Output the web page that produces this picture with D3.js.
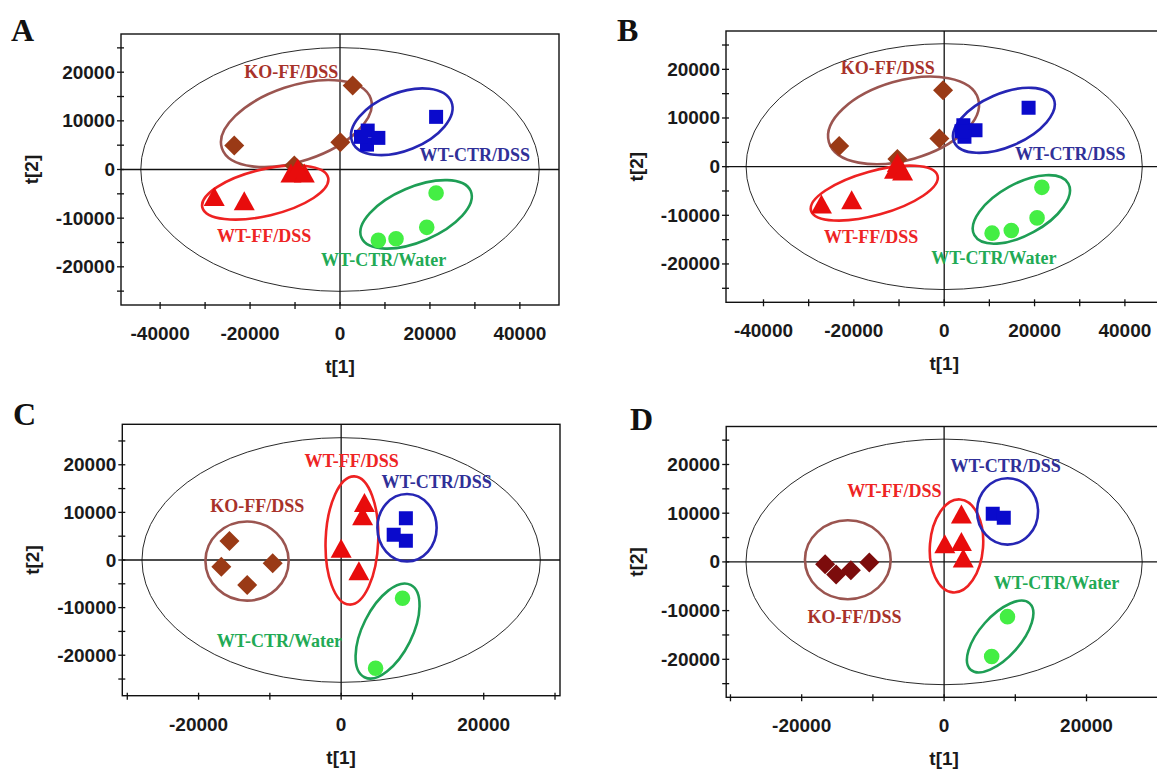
<!DOCTYPE html>
<html lang="en">
<head>
<meta charset="UTF-8" />
<title>PCA score plots</title>
<script src="https://d3js.org/d3.v7.min.js"></script>
<style>
  body { margin: 0; background: #fff; }
  text { font-family: "Liberation Sans", Arial, sans-serif; }
  .tick-label { font-size: 19px; font-weight: bold; fill: #1a1a1a; }
  .axis-title { font-size: 19px; font-weight: bold; fill: #1a1a1a; }
  .panel-letter { font-family: "Liberation Serif", "Times New Roman", serif; font-size: 32px; font-weight: bold; fill: #111; }
  .group-label { font-family: "Liberation Serif", "Times New Roman", serif; font-size: 18px; font-weight: bold; }
</style>
</head>
<body>
<svg id="chart" width="1157" height="775"></svg>
<script>
const groups = ["KO-FF/DSS", "WT-FF/DSS", "WT-CTR/DSS", "WT-CTR/Water"];

// score points: [group, t1, t2]
const scoresA = [
  ["KO-FF/DSS", 2820, 17260], ["KO-FF/DSS", -23520, 4920], ["KO-FF/DSS", 74, 5600], ["KO-FF/DSS", -10160, 800],
  ["WT-FF/DSS", -27970, -6200], ["WT-FF/DSS", -21290, -7050], ["WT-FF/DSS", -10910, -1390], ["WT-FF/DSS", -7940, -1390], ["WT-FF/DSS", -9420, -360],
  ["WT-CTR/DSS", 21370, 10820], ["WT-CTR/DSS", 6160, 8000], ["WT-CTR/DSS", 6010, 5120], ["WT-CTR/DSS", 8530, 6500], ["WT-CTR/DSS", 4670, 6710],
  ["WT-CTR/Water", 21370, -4820], ["WT-CTR/Water", 19290, -11890], ["WT-CTR/Water", 12460, -14220], ["WT-CTR/Water", 8530, -14570]
];
const scoresB = [
  ["KO-FF/DSS", -250, 15720], ["KO-FF/DSS", -23250, 4250], ["KO-FF/DSS", -1070, 5790], ["KO-FF/DSS", -10370, 1560],
  ["WT-FF/DSS", -27170, -8350], ["WT-FF/DSS", -20480, -7460], ["WT-FF/DSS", -11000, -1180], ["WT-FF/DSS", -9210, -1520], ["WT-FF/DSS", -10360, 190],
  ["WT-CTR/DSS", 18680, 12130], ["WT-CTR/DSS", 4240, 8520], ["WT-CTR/DSS", 6930, 7500], ["WT-CTR/DSS", 4480, 6130], ["WT-CTR/DSS", 3830, 7300],
  ["WT-CTR/Water", 21620, -4250], ["WT-CTR/Water", 20560, -10530], ["WT-CTR/Water", 14850, -13120], ["WT-CTR/Water", 10600, -13670]
];
const scoresC = [
  ["KO-FF/DSS", -15670, 4000], ["KO-FF/DSS", -16810, -1400], ["KO-FF/DSS", -9600, -700], ["KO-FF/DSS", -13180, -5250],
  ["WT-FF/DSS", 3270, 11410], ["WT-FF/DSS", 3010, 8610], ["WT-FF/DSS", 0, 1820], ["WT-FF/DSS", 2490, -2940],
  ["WT-CTR/DSS", 9080, 8750], ["WT-CTR/DSS", 9080, 4060], ["WT-CTR/DSS", 7370, 5320],
  ["WT-CTR/Water", 8610, -8040], ["WT-CTR/Water", 4830, -22730]
];
const scoresD = [
  ["KO-FF/DSS", -16710, -480], ["KO-FF/DSS", -15160, -2590], ["KO-FF/DSS", -13090, -1700], ["KO-FF/DSS", -10500, -140],
  ["WT-FF/DSS", 2430, 9200], ["WT-FF/DSS", 100, 3070], ["WT-FF/DSS", 2430, 3540], ["WT-FF/DSS", 2690, 140],
  ["WT-CTR/DSS", 6830, 9880], ["WT-CTR/DSS", 8380, 9060],
  ["WT-CTR/Water", 8900, -11240], ["WT-CTR/Water", 6680, -19420]
];

// group rings: [group, centre t1, centre t2, major-axis end t1, major-axis end t2, minor/major ratio]
const ringsA = [
  ["KO-FF/DSS", -9704, 9444, 6844, 14558, 0.48],
  ["WT-FF/DSS", -16626, -4730, -2637, -1667, 0.36],
  ["WT-CTR/DSS", 13744, 9815, 24772, 13909, 0.54],
  ["WT-CTR/Water", 16915, -9220, 29070, -4440, 0.46]
];
const ringsB = [
  ["KO-FF/DSS", -9000, 9500, 7520, 13940, 0.51],
  ["WT-FF/DSS", -15480, -5440, -1480, -1850, 0.335],
  ["WT-CTR/DSS", 13210, 9520, 24230, 13950, 0.49],
  ["WT-CTR/Water", 17080, -8790, 27480, -3490, 0.48]
];
const ringsC = [
  ["KO-FF/DSS", -13200, -230, -7360, -230, 0.95],
  ["WT-FF/DSS", 1510, 4100, 1850, 17560, 0.41],
  ["WT-CTR/DSS", 9240, 6780, 9240, 13850, 0.88],
  ["WT-CTR/Water", 6510, -14930, 9750, -5240, 0.48]
];
const ringsD = [
  ["KO-FF/DSS", -13520, 440, -7500, 440, 0.92],
  ["WT-FF/DSS", 1740, 3280, 2260, 12820, 0.57],
  ["WT-CTR/DSS", 8910, 10360, 8910, 17170, 0.92],
  ["WT-CTR/Water", 7870, -15330, 12010, -8510, 0.46]
];

// group names written on the plot: [group, t1, t2]
const labelsA = [["KO-FF/DSS", -10860, 19980], ["WT-CTR/DSS", 29960, 2940], ["WT-FF/DSS", -16870, -13770], ["WT-CTR/Water", 9700, -18540]];
const labelsB = [["KO-FF/DSS", -12500, 20330], ["WT-CTR/DSS", 27900, 2590], ["WT-FF/DSS", -16170, -14490], ["WT-CTR/Water", 11000, -18700]];
const labelsC = [["WT-FF/DSS", 1460, 20840], ["WT-CTR/DSS", 13390, 16320], ["KO-FF/DSS", -11780, 11410], ["WT-CTR/Water", -8670, -16930]];
const labelsD = [["WT-CTR/DSS", 8650, 19770], ["WT-FF/DSS", -6980, 14460], ["WT-CTR/Water", 15790, -4430], ["KO-FF/DSS", -12570, -11240]];

// Hotelling T2 ellipse half-widths [t1, t2]
const hotelling = { A: [44300, 25040], B: [43850, 25260], C: [27940, 25690], D: [27820, 25210] };

const xDomains = { A: [-48700, 48700], B: [-48300, 48300], C: [-30700, 30700], D: [-30600, 30600] };
const yDomains = { A: [-27850, 27850], B: [-27880, 27880], C: [-28500, 28500], D: [-27800, 27800] };
const xTicksWide = d3.range(-40000, 40001, 10000);
const xLabelsWide = [-40000, -20000, 0, 20000, 40000];
const xTicksNarrow = d3.range(-30000, 30001, 10000);
const xLabelsNarrow = [-20000, 0, 20000];
const yTicks = d3.range(-25000, 25001, 5000);
const yLabels = [-20000, -10000, 0, 10000, 20000];

const style = {
  "KO-FF/DSS":    { fill: "#9a3a16", ring: "#9b5550", text: "#a8322a", shape: "diamond" },
  "WT-FF/DSS":    { fill: "#e80c0c", ring: "#ee2222", text: "#ee2424", shape: "triangle" },
  "WT-CTR/DSS":   { fill: "#0a0acc", ring: "#2626b4", text: "#303098", shape: "square" },
  "WT-CTR/Water": { fill: "#44ee44", ring: "#1e9e55", text: "#22aa55", shape: "circle" }
};

const panels = [
  { id: "A", box: { x: 121, y: 34, w: 438, h: 271 }, letter: [11, 41], scores: scoresA, rings: ringsA, labels: labelsA, xTicks: xTicksWide, xLabels: xLabelsWide },
  { id: "B", box: { x: 726, y: 31, w: 436.4, h: 271.3 }, letter: [617, 41], scores: scoresB, rings: ringsB, labels: labelsB, xTicks: xTicksWide, xLabels: xLabelsWide },
  { id: "C", box: { x: 122.3, y: 424.3, w: 437.7, h: 271.4 }, letter: [13, 425], scores: scoresC, rings: ringsC, labels: labelsC, xTicks: xTicksNarrow, xLabels: xLabelsNarrow },
  { id: "D", box: { x: 726.2, y: 426.5, w: 435.8, h: 270.8 }, letter: [630, 430], scores: scoresD, rings: ringsD, labels: labelsD, xTicks: xTicksNarrow, xLabels: xLabelsNarrow }
];

const svg = d3.select("#chart");
svg.append("rect").attr("width", 1157).attr("height", 775).attr("fill", "#fff");

function marker(shape) {
  if (shape === "diamond") { const r = 10; return `M0,${-r}L${r},0L0,${r}L${-r},0Z`; }
  if (shape === "triangle") { const w = 21, h = 19; return `M0,${-2 * h / 3}L${w / 2},${h / 3}L${-w / 2},${h / 3}Z`; }
  if (shape === "square") { const s = 7; return `M${-s},${-s}H${s}V${s}H${-s}Z`; }
  const r = 7.8;
  return `M${r},0A${r},${r} 0 1,1 ${-r},0A${r},${r} 0 1,1 ${r},0Z`;
}

panels.forEach((p) => {
  const b = p.box;
  const x = d3.scaleLinear().domain(xDomains[p.id]).range([b.x, b.x + b.w]);
  const y = d3.scaleLinear().domain(yDomains[p.id]).range([b.y + b.h, b.y]);
  const g = svg.append("g").attr("class", "panel-" + p.id);

  const clipId = "clip" + p.id;
  g.append("clipPath").attr("id", clipId)
    .append("rect").attr("x", b.x).attr("y", b.y).attr("width", b.w).attr("height", b.h);
  const plot = g.append("g").attr("clip-path", `url(#${clipId})`);

  // Hotelling ellipse
  const h = hotelling[p.id];
  plot.append("ellipse")
    .attr("cx", x(0)).attr("cy", y(0))
    .attr("rx", x(h[0]) - x(0)).attr("ry", y(0) - y(h[1]))
    .attr("fill", "none").attr("stroke", "#2a2a2a").attr("stroke-width", 1);

  // zero lines
  plot.append("line").attr("x1", b.x).attr("x2", b.x + b.w).attr("y1", y(0)).attr("y2", y(0))
    .attr("stroke", "#111").attr("stroke-width", 1.3);
  plot.append("line").attr("x1", x(0)).attr("x2", x(0)).attr("y1", b.y).attr("y2", b.y + b.h)
    .attr("stroke", "#111").attr("stroke-width", 1.3);

  // group rings
  plot.selectAll("ellipse.ring").data(p.rings).join("ellipse")
    .attr("class", "ring")
    .each(function (d) {
      const cx = x(d[1]), cy = y(d[2]);
      const ex = x(d[3]), ey = y(d[4]);
      const a = Math.hypot(ex - cx, ey - cy);
      const ang = Math.atan2(ey - cy, ex - cx) * 180 / Math.PI;
      d3.select(this)
        .attr("cx", 0).attr("cy", 0).attr("rx", a).attr("ry", a * d[5])
        .attr("transform", `translate(${cx},${cy}) rotate(${ang})`);
    })
    .attr("fill", "none")
    .attr("stroke", (d) => style[d[0]].ring)
    .attr("stroke-width", 2.6);

  // score markers, drawn group by group
  groups.forEach((grp) => {
    const pts = p.scores.filter((d) => d[0] === grp);
    let fill = style[grp].fill;
    if (p.id === "D" && grp === "KO-FF/DSS") fill = "#7c0c0c";
    plot.selectAll(null).data(pts).join("path")
      .attr("d", marker(style[grp].shape))
      .attr("transform", (d) => `translate(${x(d[1])},${y(d[2])})`)
      .attr("fill", fill);
  });

  // group names
  g.selectAll("text.group-label").data(p.labels).join("text")
    .attr("class", "group-label")
    .attr("x", (d) => x(d[1])).attr("y", (d) => y(d[2]))
    .attr("text-anchor", "middle").attr("dominant-baseline", "central")
    .attr("fill", (d) => style[d[0]].text)
    .text((d) => d[0]);

  // frame
  g.append("rect").attr("x", b.x).attr("y", b.y).attr("width", b.w).attr("height", b.h)
    .attr("fill", "none").attr("stroke", "#111").attr("stroke-width", 1.4);

  // x ticks, crossing the bottom edge
  const bottom = b.y + b.h;
  g.selectAll("line.xtick").data(p.xTicks).join("line")
    .attr("class", "xtick")
    .attr("x1", (d) => x(d)).attr("x2", (d) => x(d))
    .attr("y1", bottom - 3).attr("y2", bottom + 4)
    .attr("stroke", "#111").attr("stroke-width", 1.3);
  g.selectAll("text.xlab").data(p.xLabels).join("text")
    .attr("class", "tick-label xlab")
    .attr("x", (d) => x(d)).attr("y", bottom + 35)
    .attr("text-anchor", "middle")
    .text((d) => d);

  // y ticks, crossing the left edge
  g.selectAll("line.ytick").data(yTicks).join("line")
    .attr("class", "ytick")
    .attr("x1", b.x - 4).attr("x2", b.x + 3)
    .attr("y1", (d) => y(d)).attr("y2", (d) => y(d))
    .attr("stroke", "#111").attr("stroke-width", 1.3);
  g.selectAll("text.ylab").data(yLabels).join("text")
    .attr("class", "tick-label ylab")
    .attr("x", b.x - 6).attr("y", (d) => y(d))
    .attr("text-anchor", "end").attr("dominant-baseline", "central")
    .text((d) => d);

  // axis titles
  g.append("text").attr("class", "axis-title")
    .attr("x", b.x + b.w / 2).attr("y", bottom + 68)
    .attr("text-anchor", "middle").text("t[1]");
  g.append("text").attr("class", "axis-title")
    .attr("transform", `translate(${b.x - 90},${b.y + b.h / 2}) rotate(-90)`)
    .attr("text-anchor", "middle").attr("dominant-baseline", "central").text("t[2]");

  g.append("text").attr("class", "panel-letter")
    .attr("x", p.letter[0]).attr("y", p.letter[1]).text(p.id);
});
</script>
</body>
</html>
